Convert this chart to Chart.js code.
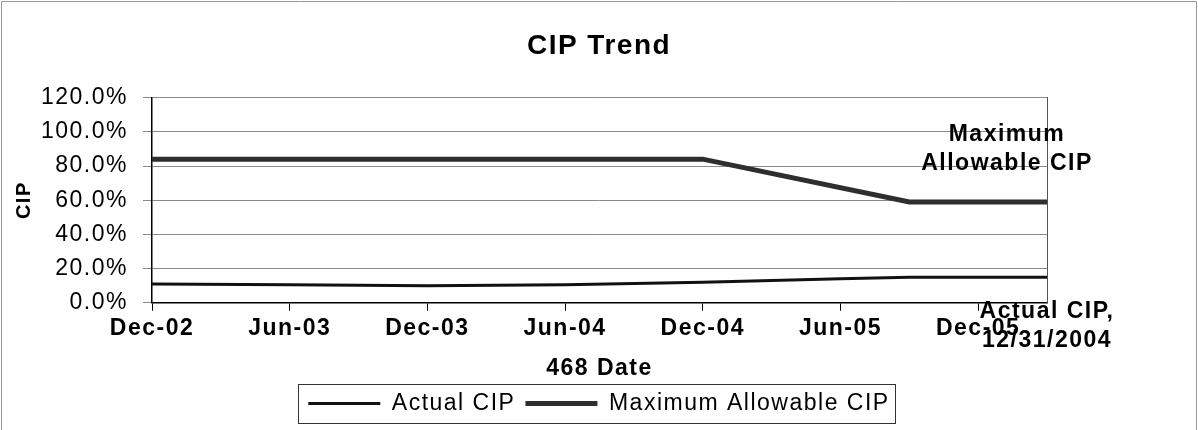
<!DOCTYPE html>
<html>
<head>
<meta charset="utf-8">
<script src="https://cdn.jsdelivr.net/npm/chart.js@4/dist/chart.umd.min.js"></script>
<style>
  html, body { margin: 0; padding: 0; background: #fff; }
</style>
</head>
<body>
<canvas id="chart" width="1198" height="430"></canvas>
<script>
// months (Dec-02 .. Mar-06)
var actualDates = ['2002-12', '2003-06', '2003-12', '2004-06', '2004-12', '2005-06', '2005-09', '2006-03'];
var actualValues = [11, 10.5, 10, 10.5, 12, 14, 15, 15];
var maxDates = ['2002-12', '2004-12', '2005-09', '2006-03'];
var maxValues = [84, 84, 59, 59];
var monthNames = ['Jan', 'Feb', 'Mar', 'Apr', 'May', 'Jun', 'Jul', 'Aug', 'Sep', 'Oct', 'Nov', 'Dec'];
var labelDate = '12/31/2004';

var FONT = '"Liberation Sans", Arial, sans-serif';
var SPACING = '1.5px';

// month number counted from Dec-02
function monthIndex(s) {
    var p = s.split('-');
    return (parseInt(p[0], 10) - 2002) * 12 + (parseInt(p[1], 10) - 12);
}
function monthLabel(i) {
    var m = 11 + i;
    var y = 2002 + Math.floor(m / 12);
    return monthNames[m % 12] + '-' + String(y).slice(2);
}
function toPoints(dates, values) {
    return dates.map(function (d, i) { return {x: monthIndex(d), y: values[i]}; });
}

var lastMonth = Math.max(monthIndex(actualDates[actualDates.length - 1]), monthIndex(maxDates[maxDates.length - 1]));

var frame = {
    id: 'frame',
    beforeUpdate: function (chart) {
        chart.ctx.letterSpacing = SPACING;
    },
    beforeDraw: function (chart) {
        var ctx = chart.ctx;
        ctx.letterSpacing = SPACING;
        ctx.save();
        ctx.strokeStyle = '#999';
        ctx.lineWidth = 1;
        ctx.beginPath();
        ctx.moveTo(1.5, 430);
        ctx.lineTo(1.5, 1.5);
        ctx.lineTo(1196.5, 1.5);
        ctx.lineTo(1196.5, 430);
        ctx.stroke();
        ctx.restore();
    },
    afterDraw: function (chart) {
        var ctx = chart.ctx;
        ctx.save();
        // legend box
        var hb = chart.legend.legendHitBoxes;
        if (hb && hb.length) {
            var l = hb[0].left - 10;
            var r = hb[hb.length - 1].left + hb[hb.length - 1].width + 6;
            var t = hb[0].top - 8;
            var b = hb[0].top + hb[0].height + 8;
            ctx.strokeStyle = '#333';
            ctx.lineWidth = 1;
            ctx.strokeRect(Math.round(l) + 0.5, Math.round(t) + 0.5, Math.round(r - l), Math.round(b - t));
        }
        // end-of-series labels
        ctx.font = 'bold 23px ' + FONT;
        ctx.fillStyle = '#000';
        ctx.textAlign = 'center';
        ctx.textBaseline = 'middle';
        var ends = [
            {lines: ['Actual CIP,', labelDate], dx: 0, dy: 35},
            {lines: ['Maximum', 'Allowable CIP'], dx: -40, dy: -67}
        ];
        chart.data.datasets.forEach(function (ds, i) {
            var pts = chart.getDatasetMeta(i).data;
            var p = pts[pts.length - 1];
            ends[i].lines.forEach(function (txt, k) {
                ctx.fillText(txt, p.x + ends[i].dx, p.y + ends[i].dy + k * 29);
            });
        });
        ctx.restore();
    }
};

new Chart(document.getElementById('chart'), {
    type: 'line',
    data: {
        datasets: [{
            label: 'Actual CIP',
            data: toPoints(actualDates, actualValues),
            borderColor: '#111',
            backgroundColor: '#111',
            borderWidth: 3,
            pointRadius: 0,
            pointHoverRadius: 0,
            tension: 0,
            fill: false
        }, {
            label: 'Maximum Allowable CIP',
            data: toPoints(maxDates, maxValues),
            borderColor: '#2e2e2e',
            backgroundColor: '#2e2e2e',
            borderWidth: 5,
            pointRadius: 0,
            pointHoverRadius: 0,
            tension: 0,
            fill: false
        }]
    },
    options: {
        responsive: false,
        animation: false,
        layout: {padding: {top: 8, left: 8, right: 8, bottom: 5}},
        plugins: {
            title: {
                display: true,
                text: 'CIP Trend',
                color: '#000',
                font: {family: FONT, size: 28, weight: 'bold'},
                padding: {top: 21, bottom: 35}
            },
            legend: {
                position: 'bottom',
                labels: {
                    color: '#000',
                    font: {family: FONT, size: 23},
                    usePointStyle: true,
                    pointStyle: 'line',
                    pointStyleWidth: 72,
                    padding: 10
                }
            },
            tooltip: {enabled: false}
        },
        scales: {
            x: {
                type: 'linear',
                position: 'bottom',
                min: 0,
                max: lastMonth,
                ticks: {
                    stepSize: 6,
                    includeBounds: false,
                    autoSkip: false,
                    maxRotation: 0,
                    color: '#000',
                    padding: 4,
                    font: {family: FONT, size: 23, weight: 'bold'},
                    callback: function (v) { return monthLabel(v); }
                },
                grid: {drawOnChartArea: false, drawTicks: true, tickLength: 8, color: '#000'},
                border: {color: '#000', width: 1.5},
                title: {
                    display: true,
                    text: '468 Date',
                    color: '#000',
                    font: {family: FONT, size: 23, weight: 'bold'},
                    padding: {top: 8, bottom: 0}
                }
            },
            y: {
                min: 0,
                max: 120,
                ticks: {
                    stepSize: 20,
                    color: '#000',
                    padding: 15,
                    font: {family: FONT, size: 23},
                    callback: function (v) { return v.toFixed(1) + '%'; }
                },
                grid: {color: '#8a8a8a', tickLength: 9},
                border: {color: '#000', width: 1.5},
                title: {
                    display: true,
                    text: 'CIP',
                    color: '#000',
                    font: {family: FONT, size: 20, weight: 'bold'},
                    padding: {top: 4, bottom: 0}
                },
                afterFit: function (s) { s.width = 144; }
            },
            y2: {
                position: 'right',
                min: 0,
                max: 120,
                ticks: {display: false},
                grid: {display: false},
                border: {color: '#555', width: 1},
                afterFit: function (s) { s.width = 143; }
            }
        }
    },
    plugins: [frame]
});
</script>
</body>
</html>
